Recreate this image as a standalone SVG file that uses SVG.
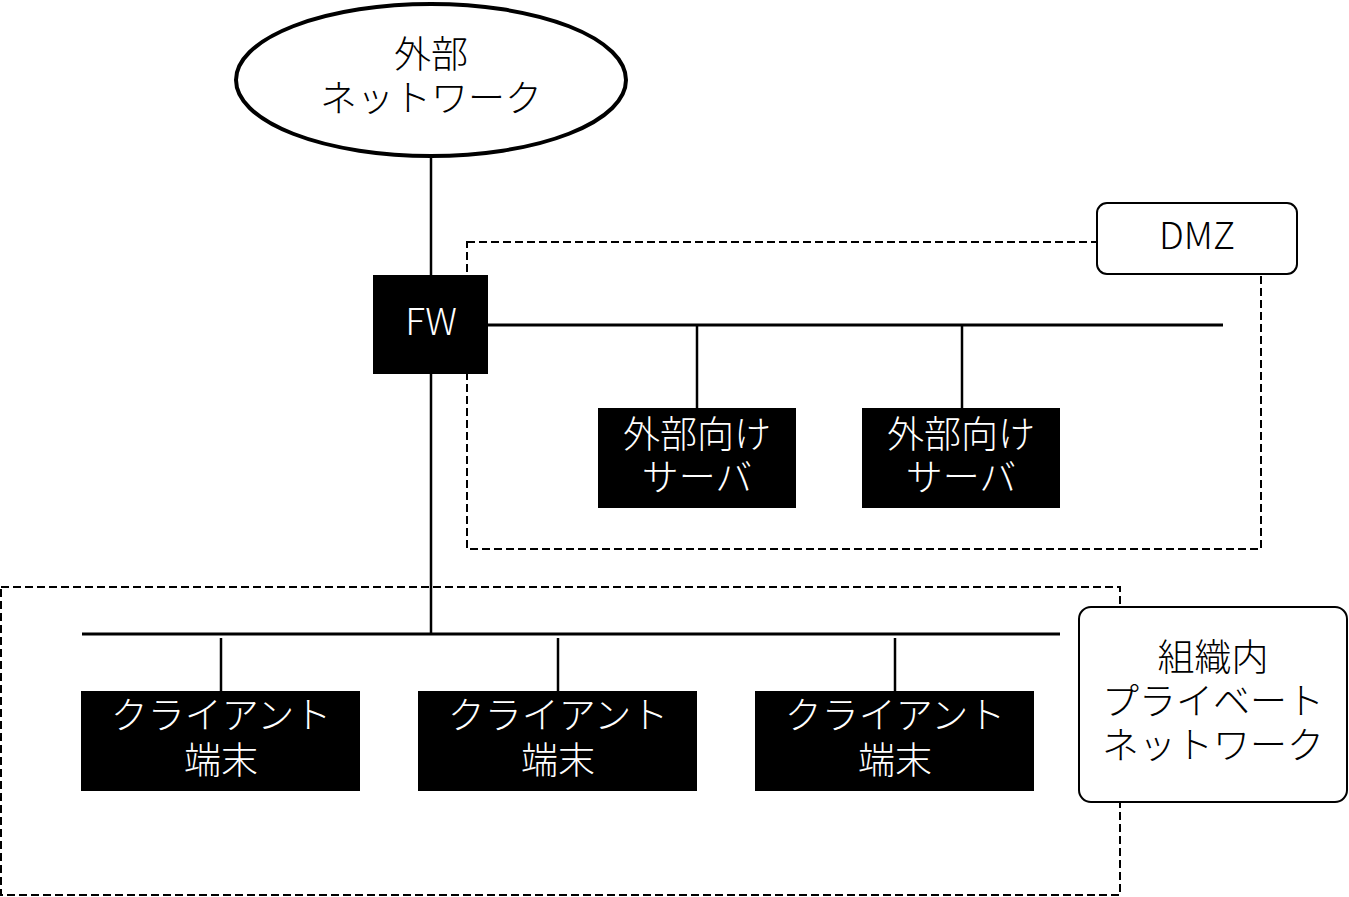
<svg xmlns="http://www.w3.org/2000/svg" width="1349" height="897" viewBox="0 0 1349 897">
<style>
.t{font-family:"Noto Sans CJK JP","Noto Sans",sans-serif;font-weight:300;font-size:37px;text-anchor:middle;dominant-baseline:central}
.w{fill:#fff}
.k{fill:#000}
.box{fill:#000}
.lbl{fill:#fff;stroke:#000;stroke-width:2}
.dash{fill:none;stroke:#000;stroke-width:2;stroke-dasharray:8 4}
.ln{stroke:#000;stroke-width:3;fill:none}
.dr{stroke:#000;stroke-width:2.5;fill:none}
</style>
<rect width="1349" height="897" fill="#fff"/>
<g id="zones">
<rect class="dash" x="1" y="587" width="1119" height="308"/>
<rect class="dash" x="467" y="242" width="794" height="307"/>
</g>
<g id="connectors">
<line class="dr" x1="431" y1="157" x2="431" y2="275"/>
<line class="dr" x1="431" y1="374" x2="431" y2="634"/>
<line class="ln" x1="488" y1="325" x2="1223" y2="325"/>
<line class="dr" x1="697" y1="325" x2="697" y2="408"/>
<line class="dr" x1="962" y1="325" x2="962" y2="408"/>
<line class="ln" x1="82" y1="634" x2="1060" y2="634"/>
<line class="dr" x1="221" y1="638" x2="221" y2="691"/>
<line class="dr" x1="558" y1="638" x2="558" y2="691"/>
<line class="dr" x1="895" y1="638" x2="895" y2="691"/>
</g>
<g id="external">
<ellipse cx="431" cy="80" rx="195" ry="76" fill="#fff" stroke="#000" stroke-width="4"/>
<text class="t k" x="431" y="52">外部</text>
<text class="t k" x="431" y="96">ネットワーク</text>
</g>
<g id="fw">
<rect class="box" x="373" y="275" width="115" height="99"/>
<text class="t w" x="431" y="319">FW</text>
</g>
<g id="dmz-label">
<rect class="lbl" x="1097" y="203" width="200" height="71" rx="10"/>
<text class="t k" x="1197" y="233">DMZ</text>
</g>
<g id="server1">
<rect class="box" x="598" y="408" width="198" height="100"/>
<text class="t w" x="697" y="432">外部向け</text>
<text class="t w" x="697" y="475">サーバ</text>
</g>
<g id="server2">
<rect class="box" x="862" y="408" width="198" height="100"/>
<text class="t w" x="961" y="432">外部向け</text>
<text class="t w" x="961" y="475">サーバ</text>
</g>
<g id="client1">
<rect class="box" x="81" y="691" width="279" height="100"/>
<text class="t w" x="221" y="713">クライアント</text>
<text class="t w" x="221" y="758">端末</text>
</g>
<g id="client2">
<rect class="box" x="418" y="691" width="279" height="100"/>
<text class="t w" x="558" y="713">クライアント</text>
<text class="t w" x="558" y="758">端末</text>
</g>
<g id="client3">
<rect class="box" x="755" y="691" width="279" height="100"/>
<text class="t w" x="895" y="713">クライアント</text>
<text class="t w" x="895" y="758">端末</text>
</g>
<g id="private-label">
<rect class="lbl" x="1079" y="607" width="268" height="195" rx="12"/>
<text class="t k" x="1213" y="655">組織内</text>
<text class="t k" x="1213" y="699">プライベート</text>
<text class="t k" x="1213" y="743">ネットワーク</text>
</g>
</svg>
